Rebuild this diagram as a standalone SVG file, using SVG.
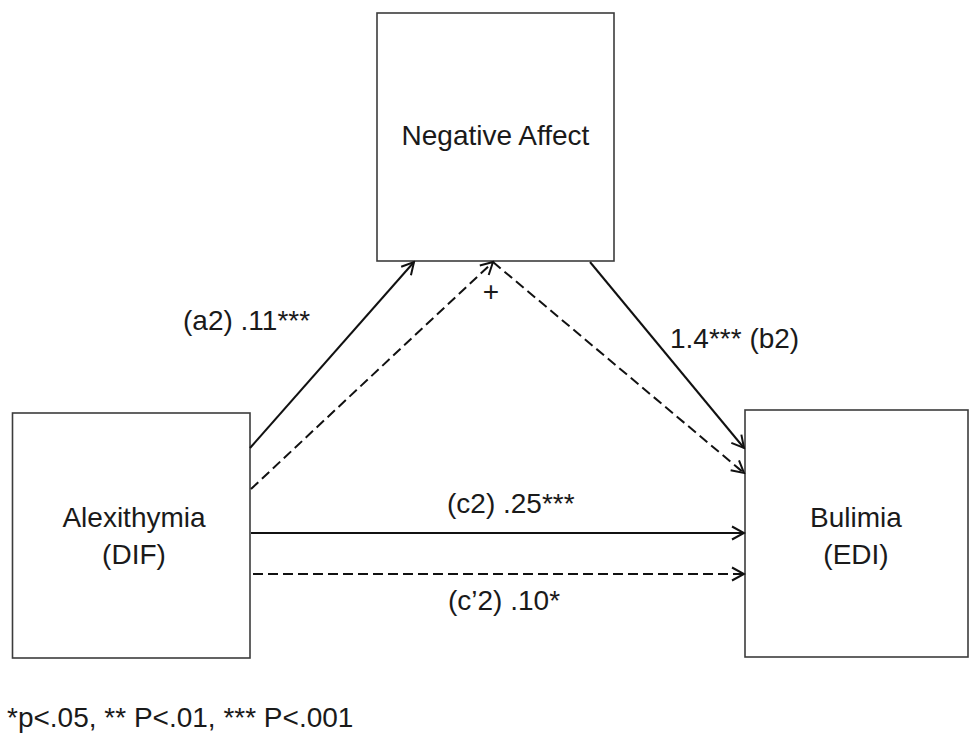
<svg xmlns="http://www.w3.org/2000/svg" width="971" height="737" viewBox="0 0 971 737">
<style>
.box{fill:#fff;stroke:#3c3c3c;stroke-width:1.6}
.t{font-family:"Liberation Sans",Arial,sans-serif;font-size:28px;fill:#1a1a1a}
.ln{stroke:#111;stroke-width:2;fill:none}
.ds{stroke-dasharray:10 5}
</style>
<defs>
<marker id="ah" markerUnits="userSpaceOnUse" markerWidth="16" markerHeight="16" viewBox="0 0 16 16" refX="14" refY="8" orient="auto">
<path d="M2,1.5 L14,8 L2,14.5" fill="none" stroke="#111" stroke-width="2"/>
</marker>
</defs>
<rect width="971" height="737" fill="#fff"/>
<g id="node-negative-affect">
<rect class="box" x="377" y="13" width="237" height="248"/>
<text class="t" x="495.5" y="145" text-anchor="middle">Negative Affect</text>
</g>
<g id="node-alexithymia">
<rect class="box" x="12.5" y="413" width="237.5" height="245"/>
<text class="t" x="134" y="527" text-anchor="middle">Alexithymia</text>
<text class="t" x="134" y="564" text-anchor="middle">(DIF)</text>
</g>
<g id="node-bulimia">
<rect class="box" x="745" y="410" width="223" height="247"/>
<text class="t" x="856" y="527" text-anchor="middle">Bulimia</text>
<text class="t" x="856" y="564" text-anchor="middle">(EDI)</text>
</g>
<g id="connectors">
<line class="ln" x1="250" y1="448" x2="414" y2="262" marker-end="url(#ah)"/>
<line class="ln ds" x1="251" y1="489" x2="493" y2="262" marker-end="url(#ah)"/>
<line class="ln ds" x1="493" y1="262" x2="744" y2="473" marker-end="url(#ah)"/>
<line class="ln" x1="590" y1="262" x2="744" y2="448" marker-end="url(#ah)"/>
<line class="ln" x1="251" y1="533" x2="744" y2="533" marker-end="url(#ah)"/>
<line class="ln ds" x1="253" y1="574" x2="744" y2="574" marker-end="url(#ah)"/>
</g>
<g id="labels">
<text class="t" x="183" y="330">(a2) .11***</text>
<text class="t" x="491" y="301" text-anchor="middle">+</text>
<text class="t" x="670" y="348">1.4*** (b2)</text>
<text class="t" x="447" y="513">(c2) .25***</text>
<text class="t" x="448" y="610">(c’2) .10*</text>
<text class="t" x="7" y="727">*p&lt;.05, ** P&lt;.01, *** P&lt;.001</text>
</g>
</svg>
